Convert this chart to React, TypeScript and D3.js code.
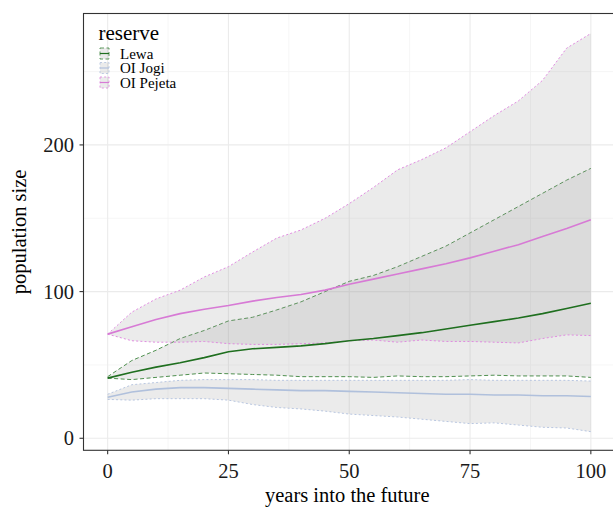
import React from "react";
import * as d3 from "d3";

const years = [0, 5, 10, 15, 20, 25, 30, 35, 40, 45, 50, 55, 60, 65, 70, 75, 80, 85, 90, 95, 100];

const lewaMedian = [41, 45, 48.5, 51.5, 55, 59, 61, 62, 63, 64.5, 66.5, 68, 70, 72, 74.5, 77, 79.5, 82, 85, 88.5, 92];
const lewaLower = [41, 40, 41.5, 43, 44.5, 44, 43.5, 43, 42, 42, 42, 41.5, 42.5, 42, 42, 42.5, 43, 42.5, 42.5, 42.5, 41.5];
const lewaUpper = [42, 53, 60, 68, 73.5, 80, 82.5, 87.5, 93, 100, 107, 111, 117, 124, 131, 140, 149, 158, 167, 176, 184];

const jogiMedian = [28, 31.5, 33.5, 34.5, 34.5, 34, 33.5, 33, 32.5, 32.5, 32, 31.5, 31, 30.5, 30, 30, 29.5, 29.5, 29, 29, 28.5];
const jogiLower = [26.5, 26, 27, 27, 27, 26, 23, 21, 20, 18.5, 16.5, 15.5, 14.5, 13, 11.5, 10, 10.5, 9, 7.5, 7, 4.5];
const jogiUpper = [30, 36.5, 38, 39.5, 40, 40, 40, 39.5, 39.5, 39.5, 39.5, 39.5, 39.5, 39.5, 39.5, 40, 39.5, 39.5, 39.5, 39.5, 39];

const pejetaMedian = [71, 76, 81, 85, 88, 90.5, 93.5, 96, 98, 101, 105, 108.5, 112, 115.5, 119, 123, 127.5, 132, 137.5, 143, 149];
const pejetaLower = [71, 66.5, 65.5, 65.5, 66, 64.5, 64, 64, 64.5, 65, 66.5, 67, 65.5, 67, 66, 66, 65.5, 65, 68, 70.5, 70];
const pejetaUpper = [71, 86, 95, 101, 110, 117, 127, 136.5, 142, 150, 160, 171, 183, 190, 198, 209, 220, 230, 244, 266, 276];

const reserves = ["Lewa", "OI Jogi", "OI Pejeta"];
const xTicks = [0, 25, 50, 75, 100];
const yTicks = [0, 100, 200];
const xMinor = [12.5, 37.5, 62.5, 87.5];
const yMinor = [50, 150, 250];

const lineColors = ["#1f6f1f", "#b0c0dc", "#d77ad5"];
const edgeColors = ["#4f8f4f", "#b8c6e0", "#e08ce0"];
const dashes = ["4,2.5", "2,2.2", "2,2.2"];

const W = 613;
const H = 509;
const P = { left: 83.5, top: 13.5, right: 615, bottom: 450.3 };
const FONT = "Liberation Serif";

export default function App() {
  const x = d3.scaleLinear().domain([-5, 105]).range([P.left, P.right]);
  const y = d3.scaleLinear().domain([-8.2, 289.6]).range([P.bottom, P.top]);

  const series = [
    { name: reserves[0], med: lewaMedian, lo: lewaLower, hi: lewaUpper },
    { name: reserves[1], med: jogiMedian, lo: jogiLower, hi: jogiUpper },
    { name: reserves[2], med: pejetaMedian, lo: pejetaLower, hi: pejetaUpper },
  ];

  const line = d3
    .line<number>()
    .x((_, i) => x(years[i]))
    .y((d) => y(d));

  const ribbon = (lo: number[], hi: number[]) =>
    d3
      .area<number>()
      .x((_, i) => x(years[i]))
      .y0((_, i) => y(lo[i]))
      .y1((_, i) => y(hi[i]))(years);

  const ts = { fontFamily: FONT };

  return (
    <svg
      width={W}
      height={H}
      style={{ position: "absolute", left: 0, top: 0, background: "#fff", fontFamily: FONT }}
    >
      <defs>
        <clipPath id="panel">
          <rect x={P.left} y={P.top} width={P.right - P.left} height={P.bottom - P.top} />
        </clipPath>
      </defs>
      <rect x={0} y={0} width={W} height={H} fill="#fff" />
      <g clipPath="url(#panel)">
        {xMinor.map((t) => (
          <line key={"xm" + t} x1={x(t)} x2={x(t)} y1={P.top} y2={P.bottom} stroke="#f4f4f4" strokeWidth={0.8} />
        ))}
        {yMinor.map((t) => (
          <line key={"ym" + t} x1={P.left} x2={P.right} y1={y(t)} y2={y(t)} stroke="#f4f4f4" strokeWidth={0.8} />
        ))}
        {xTicks.map((t) => (
          <line key={"xg" + t} x1={x(t)} x2={x(t)} y1={P.top} y2={P.bottom} stroke="#ebebeb" strokeWidth={1.1} />
        ))}
        {yTicks.map((t) => (
          <line key={"yg" + t} x1={P.left} x2={P.right} y1={y(t)} y2={y(t)} stroke="#ebebeb" strokeWidth={1.1} />
        ))}
        {series.map((s, k) => (
          <g key={s.name}>
            <path d={ribbon(s.lo, s.hi) || ""} fill="#999999" fillOpacity={0.2} stroke="none" />
            <path d={line(s.hi) || ""} fill="none" stroke={edgeColors[k]} strokeWidth={1} strokeDasharray={dashes[k]} />
            <path d={line(s.lo) || ""} fill="none" stroke={edgeColors[k]} strokeWidth={1} strokeDasharray={dashes[k]} />
          </g>
        ))}
        {series.map((s, k) => (
          <path key={"m" + s.name} d={line(s.med) || ""} fill="none" stroke={lineColors[k]} strokeWidth={1.6} />
        ))}
      </g>
      <rect
        x={P.left}
        y={P.top}
        width={P.right - P.left}
        height={P.bottom - P.top}
        fill="none"
        stroke="#333333"
        strokeWidth={1.1}
      />
      {xTicks.map((t) => (
        <g key={"xt" + t}>
          <line x1={x(t)} x2={x(t)} y1={P.bottom} y2={P.bottom + 4} stroke="#333" strokeWidth={1.1} />
          <text x={x(t)} y={477.5} textAnchor="middle" fontSize={20.5} fill="#1a1a1a" style={ts}>
            {t}
          </text>
        </g>
      ))}
      {yTicks.map((t) => (
        <g key={"yt" + t}>
          <line x1={P.left - 4} x2={P.left} y1={y(t)} y2={y(t)} stroke="#333" strokeWidth={1.1} />
          <text x={74} y={y(t) + 7} textAnchor="end" fontSize={20.5} fill="#1a1a1a" style={ts}>
            {t}
          </text>
        </g>
      ))}
      <text x={(P.left + P.right) / 2 - 2} y={502} textAnchor="middle" fontSize={20.5} fill="#000" style={ts}>
        years into the future
      </text>
      <text
        transform={`translate(26, ${(P.top + P.bottom) / 2}) rotate(-90)`}
        textAnchor="middle"
        fontSize={20.5}
        fill="#000"
        style={ts}
      >
        population size
      </text>
      <text x={98.5} y={40} fontSize={21} fill="#000" style={ts}>
        reserve
      </text>
      {reserves.map((r, k) => {
        const cy = 53.5 + k * 14.5;
        return (
          <g key={"lg" + r}>
            <rect x={100} y={cy - 5.5} width={9} height={11} fill="#999" fillOpacity={0.2} stroke={edgeColors[k]} strokeWidth={0.9} strokeDasharray={dashes[k]} />
            <line x1={100} x2={109} y1={cy} y2={cy} stroke={lineColors[k]} strokeWidth={1.2} />
            <text x={120} y={cy + 5} fontSize={15} fill="#000" style={ts}>
              {r}
            </text>
          </g>
        );
      })}
    </svg>
  );
}
